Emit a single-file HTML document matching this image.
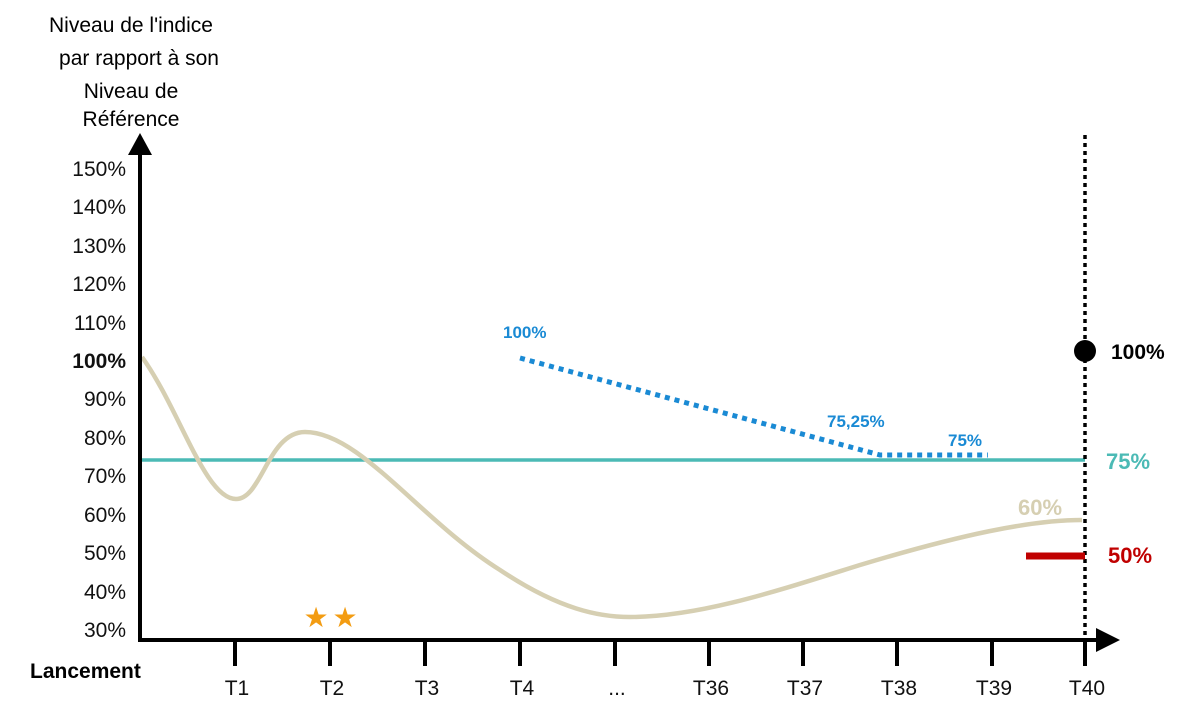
<!DOCTYPE html>
<html><head><meta charset="utf-8"><style>
body{margin:0;background:#fff}
svg text{font-family:"Liberation Sans",sans-serif}
</style></head><body>
<svg width="1200" height="723" xmlns="http://www.w3.org/2000/svg">
<g font-size="21" fill="#000" text-anchor="middle">
<text x="131" y="32">Niveau de l'indice</text>
<text x="139" y="65">par rapport à son</text>
<text x="131" y="98">Niveau de</text>
<text x="131" y="126">Référence</text>
</g>
<g font-size="21" text-anchor="end" fill="#111">
<text x="126" y="176">150%</text><text x="126" y="214">140%</text><text x="126" y="253">130%</text>
<text x="126" y="291">120%</text><text x="126" y="330">110%</text>
<text x="126" y="368" font-weight="bold">100%</text>
<text x="126" y="406">90%</text><text x="126" y="445">80%</text><text x="126" y="483">70%</text>
<text x="126" y="522">60%</text><text x="126" y="560">50%</text><text x="126" y="599">40%</text><text x="126" y="637">30%</text>
</g>
<line x1="142" y1="460" x2="1085" y2="460" stroke="#4BBAB5" stroke-width="3.5"/>
<path d="M142,357 C180,410 205,499 236,499 C262,499 268,432 305,432 C360,432 420,520 500,570 C560,610 600,617 630,617 C700,617 780,590 860,565 C960,535 1030,520 1082,520" fill="none" stroke="#D6CFB2" stroke-width="4.5"/>
<polyline points="520,358 880,455 988,455" fill="none" stroke="#1a8ad4" stroke-width="5" stroke-dasharray="5,5"/>
<line x1="1085" y1="135" x2="1085" y2="640" stroke="#000" stroke-width="3.5" stroke-dasharray="4,4"/>
<line x1="140" y1="150" x2="140" y2="642" stroke="#000" stroke-width="4"/>
<polygon points="140,133 128,155 152,155" fill="#000"/>
<line x1="138" y1="640" x2="1100" y2="640" stroke="#000" stroke-width="4"/>
<polygon points="1120,640 1096,628 1096,652" fill="#000"/>
<g stroke="#000" stroke-width="4">
<line x1="235" y1="640" x2="235" y2="666"/><line x1="330" y1="640" x2="330" y2="666"/>
<line x1="425" y1="640" x2="425" y2="666"/><line x1="520" y1="640" x2="520" y2="666"/>
<line x1="615" y1="640" x2="615" y2="666"/><line x1="709" y1="640" x2="709" y2="666"/>
<line x1="803" y1="640" x2="803" y2="666"/><line x1="897" y1="640" x2="897" y2="666"/>
<line x1="992" y1="640" x2="992" y2="666"/><line x1="1085" y1="640" x2="1085" y2="666"/>
</g>
<g font-size="21" text-anchor="middle" fill="#111">
<text x="237" y="695">T1</text><text x="332" y="695">T2</text><text x="427" y="695">T3</text>
<text x="522" y="695">T4</text><text x="617" y="695">...</text><text x="711" y="695">T36</text>
<text x="805" y="695">T37</text><text x="899" y="695">T38</text><text x="994" y="695">T39</text><text x="1087" y="695">T40</text>
</g>
<text x="30" y="678" font-size="21" font-weight="bold">Lancement</text>
<circle cx="1085" cy="351" r="11" fill="#000"/>
<text x="1111" y="359" font-size="21" font-weight="bold">100%</text>
<text x="1106" y="469" font-size="22" font-weight="bold" fill="#4BBAB5">75%</text>
<line x1="1026" y1="556" x2="1085" y2="556" stroke="#C00000" stroke-width="7"/>
<text x="1108" y="563" font-size="22" font-weight="bold" fill="#C00000">50%</text>
<text x="1018" y="515" font-size="22" font-weight="bold" fill="#D6CFB2">60%</text>
<g font-size="17" font-weight="bold" fill="#1a8ad4">
<text x="503" y="338">100%</text>
<text x="827" y="427">75,25%</text>
<text x="948" y="446">75%</text>
</g>
<g font-size="28" fill="#F39C12" text-anchor="middle">
<text x="316" y="627">★</text><text x="345" y="627">★</text>
</g>
</svg>
</body></html>
